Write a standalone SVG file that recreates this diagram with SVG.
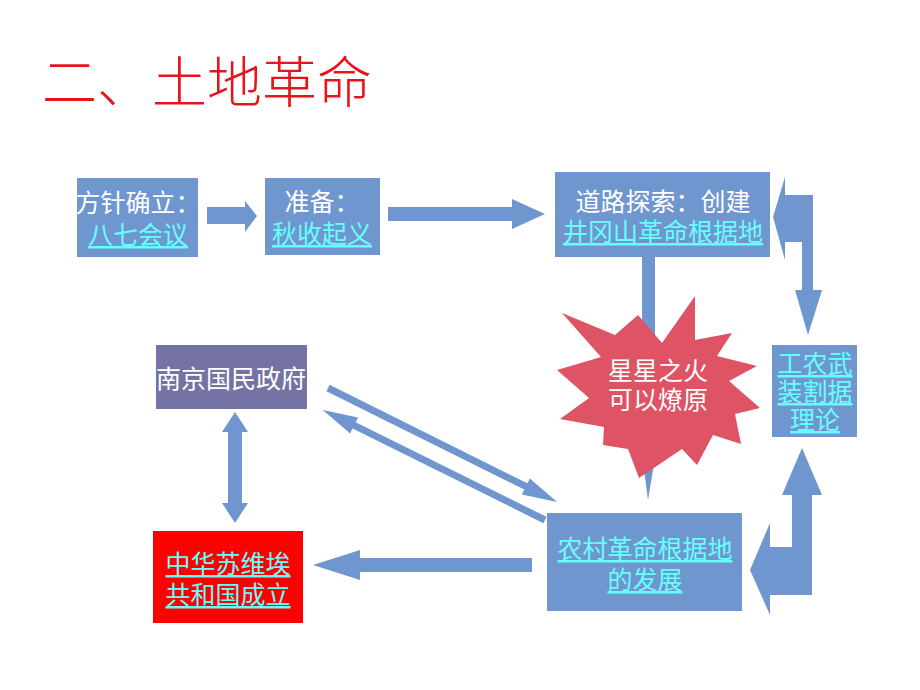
<svg xmlns="http://www.w3.org/2000/svg" width="920" height="690" viewBox="0 0 920 690">
<style>
.box{fill:#7096CF}
.arr{fill:#7096CF}
.t{font-family:"Liberation Sans","Noto Sans CJK SC",sans-serif;font-size:25px;text-anchor:middle}
.w{fill:#FFFFFF}
.c{fill:#66FFFF;text-decoration:underline}
.title{font-family:"Liberation Serif","Noto Sans CJK SC",serif;font-size:55px;font-weight:300;fill:#E8141B}
</style>
<rect width="920" height="690" fill="#FFFFFF"/>
<text class="title" x="42" y="102">二、土地革命</text>

<g id="connectors">
  <polygon class="arr" points="207,207 245,207 245,201 257,216 245,232 245,224 207,224"/>
  <polygon class="arr" points="388,207 512,207 512,199 545,214 512,229 512,221 388,221"/>
  <polygon class="arr" points="642,257 655,257 655,440 658,440 648,500 640,440 642,440"/>
  <polygon class="arr" points="773,217 785,177 785,195 813,195 813,290 822,290 808,335 795,290 802,290 802,242 785,242 785,260"/>
  <polygon class="arr" points="802,448 822,495 812,495 812,595 770,595 770,615 750,570 770,523 770,547 792,547 792,495 782,495"/>
  <polygon class="arr" points="532,558 360,558 360,550 313,565 360,580 360,572 532,572"/>
  <polygon class="arr" points="235,412 248,432 242,432 242,503 248,503 235,523 222,503 228,503 228,432 222,432"/>
  <g transform="translate(328,388) rotate(26.46)">
    <polygon class="arr" points="0,-3.5 221,-3.5 221,-9 256,0 221,9 221,3.5 0,3.5"/>
  </g>
  <g transform="translate(545,520) rotate(206.35)">
    <polygon class="arr" points="0,-3.5 213,-3.5 213,-9 248,0 213,9 213,3.5 0,3.5"/>
  </g>
</g>

<g id="node-baqi">
  <rect class="box" x="77" y="178" width="121" height="79"/>
  <text class="t w" x="138" y="212">方针确立：</text>
  <text class="t c" x="138" y="244">八七会议</text>
</g>

<g id="node-qiushou">
  <rect class="box" x="265" y="178" width="115" height="77"/>
  <text class="t w" x="322" y="211">准备：</text>
  <text class="t c" x="322" y="243">秋收起义</text>
</g>

<g id="node-jinggangshan">
  <rect class="box" x="555" y="172" width="215" height="85"/>
  <text class="t w" x="663" y="211">道路探索：创建</text>
  <text class="t c" x="663" y="241">井冈山革命根据地</text>
</g>

<g id="node-star">
  <polygon fill="#DE5465" points="562,313 615,335 638,315 662,343 695,296 695,340 732,333 717,356 757,366 729,381 760,408 735,414 741,444 713,435 697,465 682,449 639,478 628,449 603,445 604,427 560,419 589,398 557,370 601,357"/>
  <text class="t w" x="658" y="380">星星之火</text>
  <text class="t w" x="658" y="409">可以燎原</text>
</g>

<g id="node-geju">
  <rect class="box" x="772" y="345" width="85" height="92"/>
  <text class="t c" x="815" y="373">工农武</text>
  <text class="t c" x="815" y="401">装割据</text>
  <text class="t c" x="815" y="429">理论</text>
</g>

<g id="node-nanjing">
  <rect x="156" y="345" width="151" height="64" fill="#7573A3"/>
  <text class="t w" x="231" y="388">南京国民政府</text>
</g>

<g id="node-suweiai">
  <rect x="153" y="531" width="150" height="92" fill="#FF0000"/>
  <text class="t c" x="228" y="573">中华苏维埃</text>
  <text class="t c" x="228" y="604">共和国成立</text>
</g>

<g id="node-nongcun">
  <rect class="box" x="547" y="513" width="195" height="98"/>
  <text class="t c" x="645" y="558">农村革命根据地</text>
  <text class="t c" x="645" y="589">的发展</text>
</g>
</svg>
